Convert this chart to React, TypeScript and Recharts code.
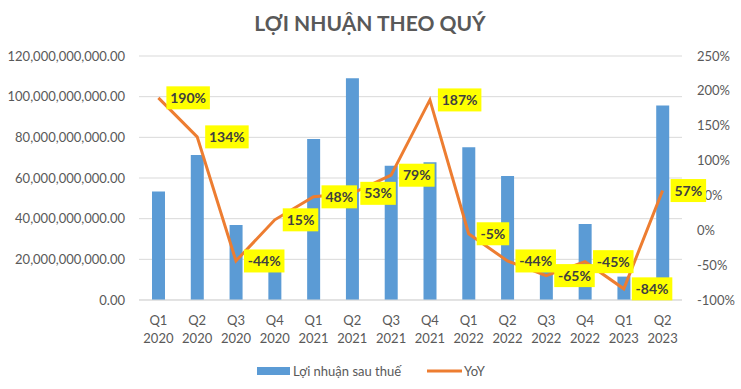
import React from 'react';
import { ComposedChart, Bar, Line, XAxis, YAxis, CartesianGrid, LabelList } from 'recharts';

const quarters = ['Q1 2020', 'Q2 2020', 'Q3 2020', 'Q4 2020', 'Q1 2021', 'Q2 2021', 'Q3 2021', 'Q4 2021', 'Q1 2022', 'Q2 2022', 'Q3 2022', 'Q4 2022', 'Q1 2023', 'Q2 2023'];
const profit = [53.3e9, 71.3e9, 36.9e9, 15e9, 79.2e9, 109e9, 66e9, 67.7e9, 75.1e9, 61e9, 16e9, 37.4e9, 11.5e9, 95.6e9];
const yoy = [190, 134, -44, 15, 48, 53, 79, 187, -5, -44, -65, -45, -84, 57];
const leftTicks = [0, 20e9, 40e9, 60e9, 80e9, 100e9, 120e9];
const rightTicks = [-100, -50, 0, 50, 100, 150, 200, 250];
const title = 'LỢI NHUẬN THEO QUÝ';
const profitName = 'Lợi nhuận sau thuế';
const yoyName = 'YoY';

const data = quarters.map((q, i) => ({ q, profit: profit[i], yoy: yoy[i] }));

const FONT = 'Lato, "Noto Sans", sans-serif';
const TXT = '#595959';

const fmtLeft = (v: number) =>
  v.toLocaleString('en-US', { minimumFractionDigits: 2, maximumFractionDigits: 2 });

const XTick = (props: any) => {
  const { x, y, payload } = props;
  const [q, yr] = String(payload.value).split(' ');
  return (
    <g>
      <text x={x} y={y + 25} textAnchor="middle" fontSize={13} fill={TXT} fontFamily={FONT}>{q}</text>
      <text x={x} y={y + 43} textAnchor="middle" fontSize={13} fill={TXT} fontFamily={FONT}>{yr}</text>
    </g>
  );
};

const YoYLabel = (props: any) => {
  const { x, y, value } = props;
  const s = `${value}%`;
  let w = 0;
  for (const c of s) w += c === '%' ? 11.5 : c === '-' ? 5 : 8;
  w += 8;
  return (
    <g>
      <rect x={x + 8} y={y - 11.5} width={w} height={23} fill="#ffff00" />
      <text x={x + 8 + w / 2} y={y + 5} textAnchor="middle" fontSize={14} fontWeight="bold" fill="#404040" fontFamily={FONT}>{s}</text>
    </g>
  );
};

export default function App() {
  return (
    <div style={{ position: 'absolute', left: 0, top: 0, width: 741, height: 389, background: '#fff', fontFamily: FONT }}>
      <ComposedChart width={741} height={389} data={data} margin={{ top: 56, right: 0, bottom: 0, left: 0 }}>
        <CartesianGrid yAxisId="left" vertical={false} stroke="#d9d9d9" strokeWidth={1} />
        <XAxis dataKey="q" height={89} tickLine={false} axisLine={{ stroke: '#d9d9d9' }} tickSize={0} tickMargin={0} tick={<XTick />} interval={0} />
        <YAxis yAxisId="left" width={139} domain={[0, 120e9]} ticks={leftTicks} tickFormatter={fmtLeft} axisLine={false} tickLine={false} tick={{ fill: TXT, fontSize: 13, fontFamily: FONT }} tickMargin={8} />
        <YAxis yAxisId="right" orientation="right" width={59} domain={[-100, 250]} ticks={rightTicks} tickFormatter={(v: number) => `${v}%`} axisLine={false} tickLine={false} tick={{ fill: TXT, fontSize: 13, fontFamily: FONT, textAnchor: 'start' }} tickMargin={9} />
        <Bar yAxisId="left" dataKey="profit" name={profitName} fill="#5b9bd5" barSize={13} isAnimationActive={false} />
        <Line yAxisId="right" dataKey="yoy" name={yoyName} stroke="#ed7d31" strokeWidth={3} dot={false} isAnimationActive={false}>
          <LabelList dataKey="yoy" content={<YoYLabel />} />
        </Line>
      </ComposedChart>
      <svg width={741} height={389} style={{ position: 'absolute', left: 0, top: 0, pointerEvents: 'none' }}>
        <text x={370} y={31} textAnchor="middle" fontSize={21} fontWeight="bold" fill={TXT} fontFamily={FONT}>{title}</text>
        <rect x={257} y={367} width={33} height={8} fill="#5b9bd5" />
        <text x={293} y={376} fontSize={13} fill={TXT} fontFamily={FONT}>{profitName}</text>
        <line x1={427} x2={462} y1={371} y2={371} stroke="#ed7d31" strokeWidth={3} />
        <text x={464} y={376} fontSize={13} fill={TXT} fontFamily={FONT}>{yoyName}</text>
      </svg>
    </div>
  );
}
